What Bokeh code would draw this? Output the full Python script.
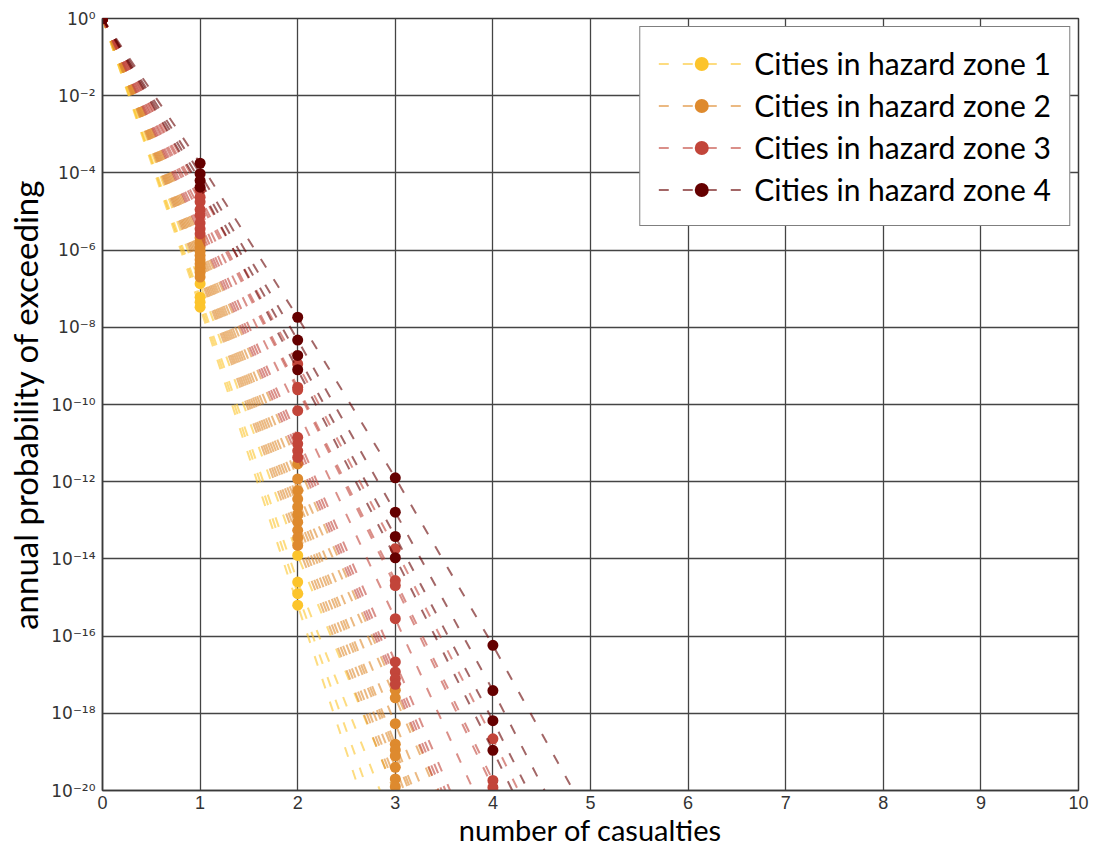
import json
from bokeh.plotting import figure
from bokeh.models import FixedTicker, CustomJSTickFormatter, Legend, LegendItem
from bokeh.embed import file_html
from bokeh.resources import INLINE

# ---------------- data (log10 of annual probability of exceeding) ----------------
casualties = [0, 1, 2, 3, 4, 5]

zone1_log = [
    [0, -6.87, -13.91, -20.05, -26.2, -32.4],
    [0, -7.22, -14.60, -21.00, -27.6, -34.0],
    [0, -7.35, -14.90, -22.00, -29.0, -36.0],
    [0, -7.48, -15.20, -22.80, -30.4, -38.0],
]
zone2_log = [
    [0, -5.68, -11.54, -17.40, -23.3, -29.2],
    [0, -5.80, -11.93, -17.60, -23.4, -29.3],
    [0, -5.92, -12.23, -18.27, -24.4, -30.5],
    [0, -6.03, -12.45, -18.80, -25.1, -31.4],
    [0, -6.14, -12.65, -18.95, -25.4, -31.8],
    [0, -6.25, -12.85, -19.10, -25.6, -32.1],
    [0, -6.36, -13.05, -19.40, -26.0, -32.6],
    [0, -6.47, -13.26, -19.70, -26.4, -33.1],
    [0, -6.58, -13.45, -19.90, -26.7, -33.5],
    [0, -6.70, -13.65, -20.10, -27.0, -33.9],
]
zone3_log = [
    [0, -4.45, -8.95, -13.74, -18.66, -23.8],
    [0, -4.63, -9.55, -14.56, -19.74, -25.1],
    [0, -4.75, -9.62, -14.69, -19.92, -25.3],
    [0, -4.95, -10.16, -15.55, -21.10, -26.8],
    [0, -5.10, -10.85, -16.67, -22.60, -28.6],
    [0, -5.30, -11.02, -16.93, -22.90, -29.0],
    [0, -5.45, -11.20, -17.10, -23.20, -29.4],
    [0, -5.58, -11.37, -17.25, -23.50, -29.8],
]
zone4_log = [
    [0, -3.75, -7.74, -11.90, -16.24, -20.80],
    [0, -4.02, -8.33, -12.79, -17.41, -22.30],
    [0, -4.20, -8.73, -13.42, -18.19, -23.20],
    [0, -4.37, -9.10, -13.97, -18.96, -24.20],
]

zone_labels = ["Cities in hazard zone 1", "Cities in hazard zone 2",
               "Cities in hazard zone 3", "Cities in hazard zone 4"]
zone_colors = ["#FCC42C", "#DE8A2E", "#C2453A", "#650000"]

x_ticks = [0, 1, 2, 3, 4, 5, 6, 7, 8, 9, 10]
y_tick_exponents = [0, -2, -4, -6, -8, -10, -12, -14, -16, -18, -20]

x_label = "number of casualties"
y_label = "annual probability of exceeding"

# ---------------- figure ----------------
p = figure(width=1093, height=850, y_axis_type="log",
           x_range=(0, 10), y_range=(1e-20, 1),
           output_backend="svg", toolbar_location=None,
           min_border_left=102, min_border_right=15,
           min_border_top=18, min_border_bottom=60)
p.background_fill_color = "white"
p.border_fill_color = "white"
p.outline_line_color = "#3a3a3a"
p.outline_line_width = 1.5

zones = [zone1_log, zone2_log, zone3_log, zone4_log]
items = []
for zlog, col, lab in zip(zones, zone_colors, zone_labels):
    xs = [casualties for _ in zlog]
    ys = [[10.0 ** v for v in city] for city in zlog]
    ml = p.multi_line(xs, ys, line_color=col, line_alpha=0.6, line_width=2,
                      line_dash="10 14")
    px = []
    py = []
    for city in ys:
        for xv, yv in zip(casualties, city):
            px.append(xv)
            py.append(yv)
    sc = p.scatter(px, py, size=11, marker="circle", fill_color=col,
                   line_color=col, line_width=0)
    items.append(LegendItem(label=lab, renderers=[ml, sc]))

legend = Legend(items=items, location="top_right")
legend.label_text_font = "Lato"
legend.label_text_font_size = "30px"
legend.label_text_color = "black"
legend.border_line_color = "black"
legend.border_line_width = 1
legend.background_fill_alpha = 1
legend.glyph_width = 86
legend.glyph_height = 35
legend.label_height = 35
legend.spacing = 6
legend.padding = 18
legend.margin = 8
legend.label_standoff = 10
p.add_layout(legend, "center")

# axes
p.xaxis.ticker = FixedTicker(ticks=x_ticks)
p.yaxis.ticker = FixedTicker(ticks=[10.0 ** e for e in y_tick_exponents])

sup_map = {"-": "\u207b", "0": "\u2070", "1": "\u00b9", "2": "\u00b2", "3": "\u00b3",
           "4": "\u2074", "5": "\u2075", "6": "\u2076", "7": "\u2077", "8": "\u2078",
           "9": "\u2079"}
p.yaxis.formatter = CustomJSTickFormatter(code="""
const sup = %s;
const e = Math.round(Math.log10(tick));
return "10" + String(e).split("").map(c => sup[c]).join("");
""" % json.dumps(sup_map))

for ax in (p.xaxis, p.yaxis):
    ax.axis_line_color = "#3a3a3a"
    ax.axis_line_width = 1.5
    ax.major_tick_line_color = None
    ax.minor_tick_line_color = None
    ax.major_tick_out = 0
    ax.major_tick_in = 0
    ax.minor_tick_out = 0
    ax.minor_tick_in = 0
    ax.major_label_text_color = "#333333"
    ax.axis_label_text_font = "Lato"
    ax.axis_label_text_font_style = "normal"
    ax.axis_label_text_color = "black"

p.xaxis.major_label_text_font = "Liberation Sans"
p.yaxis.major_label_text_font = "DejaVu Sans"
p.xaxis.major_label_text_font_size = "18px"
p.yaxis.major_label_text_font_size = "17px"
p.xaxis.major_label_standoff = 5
p.yaxis.major_label_standoff = 7
p.xaxis.axis_label = x_label
p.yaxis.axis_label = y_label
p.xaxis.axis_label_text_font_size = "29px"
p.yaxis.axis_label_text_font_size = "33px"
p.xaxis.axis_label_standoff = 0
p.yaxis.axis_label_standoff = 3

p.xgrid.grid_line_color = "#444444"
p.ygrid.grid_line_color = "#444444"
p.xgrid.grid_line_width = 1.3
p.ygrid.grid_line_width = 1.3

open("out.html", "w").write(file_html(p, INLINE))
